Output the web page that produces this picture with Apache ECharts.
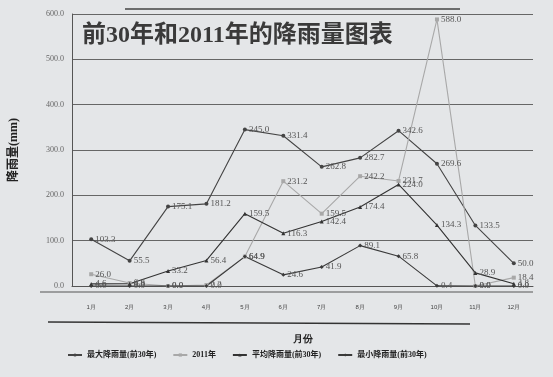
<!DOCTYPE html>
<html>
<head>
<meta charset="utf-8">
<style>
  html, body { margin: 0; padding: 0; background: #e4e6e8; }
  #chart { width: 553px; height: 377px; }
</style>
<script src="https://cdn.jsdelivr.net/npm/echarts@6/dist/echarts.min.js"></script>
</head>
<body>
<div id="chart"></div>
<script>
var months = ['1月', '2月', '3月', '4月', '5月', '6月', '7月', '8月', '9月', '10月', '11月', '12月']
var maxRain = [103.3, 55.5, 175.1, 181.2, 345.0, 331.4, 262.8, 282.7, 342.6, 269.6, 133.5, 50.0]
var rain2011 = [26.0, 6.6, 0.0, 2.2, 64.9, 231.2, 159.5, 242.2, 231.7, 588.0, 0.0, 18.4]
var avgRain = [4.6, 4.8, 33.2, 56.4, 159.5, 116.3, 142.4, 174.4, 224.0, 134.3, 28.9, 4.8]
var minRain = [0.0, 0.0, 0.0, 0.0, 64.9, 24.6, 41.9, 89.1, 65.8, 0.4, 0.0, 0.0]
var seriesNames = ['最大降雨量(前30年)', '2011年', '平均降雨量(前30年)', '最小降雨量(前30年)']

var serif = '"Liberation Serif", "DejaVu Serif", "Noto Sans CJK SC", serif'
var chart = echarts.init(document.getElementById('chart'))

function lineSeries(name, data, color, symbol) {
  return {
    name: name,
    type: 'line',
    data: data,
    symbol: symbol,
    symbolSize: 4,
    lineStyle: { color: color, width: 1.1 },
    itemStyle: { color: color },
    label: {
      show: true,
      position: 'right',
      distance: 2,
      fontSize: 9,
      fontFamily: serif,
      color: '#555',
      formatter: function(p) { return p.value.toFixed(1) }
    }
  }
}

chart.setOption({
  backgroundColor: '#e4e6e8',
  title: {
    text: '前30年和2011年的降雨量图表',
    left: 77,
    top: 19,
    textStyle: {
      fontFamily: serif,
      fontWeight: 'bold',
      fontSize: 24,
      color: '#3a3a3a'
    }
  },
  legend: {
    data: seriesNames,
    left: 62,
    top: 346,
    itemGap: 16,
    itemWidth: 14,
    itemHeight: 4,
    textStyle: {
      fontSize: 8,
      fontWeight: 'bold',
      color: '#222',
      fontFamily: serif
    }
  },
  grid: {
    left: 70,
    right: 20,
    top: 14,
    bottom: 91
  },
  graphic: [
    {
      type: 'line',
      shape: { x1: 125, y1: 9, x2: 460, y2: 9 },
      style: { stroke: '#444', lineWidth: 1.5 }
    },
    {
      type: 'line',
      shape: { x1: 40, y1: 292, x2: 533, y2: 292 },
      style: { stroke: '#555', lineWidth: 1 }
    },
    {
      type: 'line',
      shape: { x1: 48, y1: 322, x2: 470, y2: 324 },
      style: { stroke: '#333', lineWidth: 1.5 }
    }
  ],
  xAxis: {
    type: 'category',
    data: months,
    name: '月份',
    nameLocation: 'middle',
    nameGap: 48,
    nameTextStyle: { fontSize: 10, fontWeight: 'bold', color: '#222' },
    axisLine: { lineStyle: { color: '#555' } },
    axisTick: { show: false },
    axisLabel: { fontSize: 6, color: '#444', margin: 18 }
  },
  yAxis: {
    type: 'value',
    min: 0,
    max: 600,
    interval: 100,
    name: '降雨量(mm)',
    nameLocation: 'middle',
    nameRotate: 90,
    nameGap: 52,
    nameTextStyle: { fontSize: 12, fontWeight: 'bold', color: '#222', fontFamily: serif },
    axisLine: { show: true, lineStyle: { color: '#555' } },
    axisTick: { show: false },
    axisLabel: {
      fontSize: 8,
      color: '#666',
      fontFamily: serif,
      margin: 8,
      formatter: function(v) { return v.toFixed(1) }
    },
    splitLine: { lineStyle: { color: '#666', width: 1 } }
  },
  series: [
    lineSeries(seriesNames[0], maxRain, '#444444', 'circle'),
    lineSeries(seriesNames[1], rain2011, '#a8a8a8', 'rect'),
    lineSeries(seriesNames[2], avgRain, '#333333', 'triangle'),
    lineSeries(seriesNames[3], minRain, '#3a3a3a', 'diamond')
  ]
})
</script>
</body>
</html>
